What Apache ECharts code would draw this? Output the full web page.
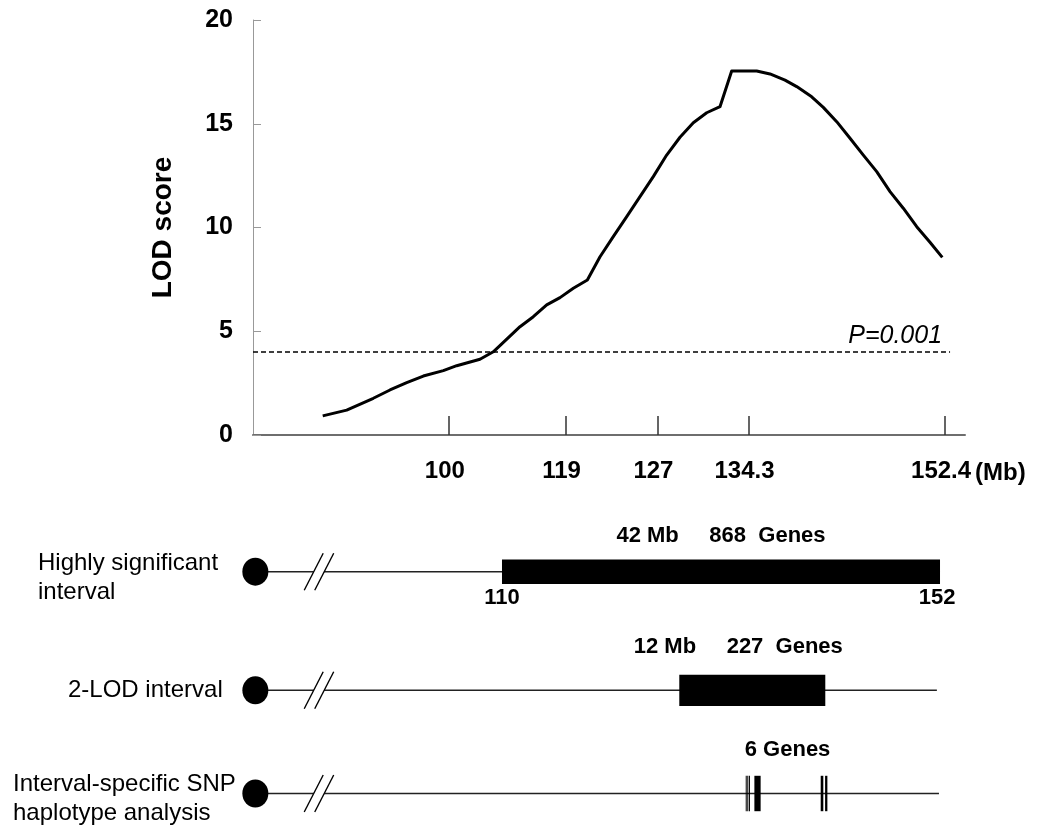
<!DOCTYPE html>
<html><head><meta charset="utf-8">
<script src="https://cdn.jsdelivr.net/npm/echarts@6/dist/echarts.min.js"></script>
<style>html,body{margin:0;padding:0;background:#fff}#c{width:1039px;height:832px}</style>
</head><body><div id="c"></div>
<script>
// ---------- data ----------
// LOD curve: position along the marker map (0-100 axis units) and LOD score
const lodPosition = [9.79,13.16,16.90,19.24,21.59,23.92,26.73,28.61,31.88,33.75,37.50,39.37,41.25,43.12,44.99,46.96,48.74,50.60,52.49,56.22,58.10,59.97,61.84,63.72,65.59,67.23,70.74,72.61,74.72,76.36,78.47,80.10,81.98,83.85,85.72,87.60,89.47,91.33,93.22,95.08,96.81];
const lodScore    = [0.92,1.20,1.77,2.17,2.52,2.84,3.10,3.34,3.65,4.01,5.22,5.70,6.27,6.62,7.07,7.47,8.59,9.56,10.52,12.45,13.49,14.35,15.05,15.53,15.82,17.54,17.54,17.40,17.10,16.79,16.30,15.79,15.10,14.30,13.49,12.69,11.73,10.93,10.04,9.29,8.56];
const markerTickPosition = [27.5, 43.9, 56.8, 69.6, 97.2];
const markerTickLabel = ['100', '119', '127', '134.3', '152.4'];
const thresholdLOD = 4.0;
const thresholdSpan = [0, 97.9];
const thresholdLabel = 'P=0.001';

// lower panel (Mb)
const rowLabels = ['Highly significant\ninterval', '2-LOD interval', 'Interval-specific SNP\nhaplotype analysis'];
const highlySignificantMb = [110, 152];
const twoLodMb = [127, 141];
const snpGeneMb = [[133.37,133.46],[133.52,133.62],[133.68,133.77],[134.2,134.8],[140.56,140.81],[140.98,141.2]];
const rowNotes = ['42 Mb     868  Genes', '12 Mb     227  Genes', '6 Genes'];
const centromereMb = 86.35;
const breakMb = 92.45;
const chromEndMb = [152, 151.7, 151.9];

// ---------- chart ----------
const FONT = '"Liberation Sans", Arial, Helvetica, sans-serif';
const chart = echarts.init(document.getElementById('c'), null, {renderer: 'canvas'});

const rowTops = [526.7, 645.3, 755];
const rowHalf = [0.41, 0.52, 0.69];
const noteDy = [-35.3, -43.3, -43.3];
const noteDx = [0, -14, 1];
const rowSpans = [[highlySignificantMb], [twoLodMb], snpGeneMb];

const grids = [{left: 253, right: 74, top: 20, height: 415}];
const xAxes = [{
  gridIndex: 0, type: 'value', min: 0, max: 100,
  axisLine: {show: true, lineStyle: {color: '#6e6e6e', width: 2}},
  axisTick: {show: true, customValues: markerTickPosition, inside: true, length: 19, lineStyle: {color: '#333', width: 1.5}},
  axisLabel: {show: true, customValues: markerTickPosition, margin: 24, fontSize: 24, fontWeight: 'bold', color: '#000', fontFamily: FONT,
    padding: [0, 8, 0, 0],
    formatter: function (v) {
      let best = 0;
      for (let i = 1; i < markerTickPosition.length; i++) if (Math.abs(markerTickPosition[i] - v) < Math.abs(markerTickPosition[best] - v)) best = i;
      return markerTickLabel[best];
    }},
  splitLine: {show: false},
  name: '(Mb)', nameLocation: 'end', nameGap: 8,
  nameTextStyle: {fontSize: 24, fontWeight: 'bold', color: '#000', fontFamily: FONT, verticalAlign: 'top', padding: [26, 0, 0, 0]}
}];
const yAxes = [{
  gridIndex: 0, type: 'value', min: 0, max: 20, interval: 5,
  axisLine: {show: true, lineStyle: {color: '#999', width: 1}},
  axisTick: {show: true, inside: true, length: 8, lineStyle: {color: '#999'}},
  axisLabel: {margin: 20, fontSize: 25, fontWeight: 'bold', color: '#000', fontFamily: FONT},
  splitLine: {show: false},
  name: 'LOD score', nameLocation: 'middle', nameGap: 76,
  nameTextStyle: {fontSize: 28, fontWeight: 'bold', color: '#000', fontFamily: FONT}
}];
for (let i = 0; i < 3; i++) {
  grids.push({left: 251.7, right: 67.7, top: rowTops[i], height: 90});
  xAxes.push({gridIndex: i + 1, type: 'value', min: 86, max: 155, show: false});
  yAxes.push({gridIndex: i + 1, type: 'value', min: -1.5, max: 1.5, show: false});
}

const series = [
  {
    type: 'line', xAxisIndex: 0, yAxisIndex: 0, z: 4,
    data: lodPosition.map((x, i) => [x, lodScore[i]]),
    showSymbol: false, symbol: 'none', silent: true,
    lineStyle: {color: '#000', width: 3, join: 'round'}
  },
  {
    type: 'line', xAxisIndex: 0, yAxisIndex: 0, z: 3, silent: true,
    symbol: 'circle', symbolSize: 0, showSymbol: true,
    data: [[thresholdSpan[0], thresholdLOD], {value: [thresholdSpan[1], thresholdLOD],
      label: {show: true, formatter: thresholdLabel, position: 'top', align: 'right', offset: [-8, 2],
        fontSize: 25, fontStyle: 'italic', color: '#000', fontFamily: FONT}}],
    lineStyle: {color: '#000', width: 1.5, type: [5, 3]}
  }
];

function breakRender(params, api) {
  const c = api.coord([api.value(0), 0]);
  const dx = 9.5, dy = 18.5, sep = 5.25;
  return {type: 'group', children: [
    {type: 'polygon', shape: {points: [[c[0]-sep-dx, c[1]+dy], [c[0]-sep+dx, c[1]-dy], [c[0]+sep+dx, c[1]-dy], [c[0]+sep-dx, c[1]+dy]]}, style: {fill: '#fff'}},
    {type: 'line', shape: {x1: c[0]-sep-dx, y1: c[1]+dy, x2: c[0]-sep+dx, y2: c[1]-dy}, style: {stroke: '#000', lineWidth: 1.4}},
    {type: 'line', shape: {x1: c[0]+sep-dx, y1: c[1]+dy, x2: c[0]+sep+dx, y2: c[1]-dy}, style: {stroke: '#000', lineWidth: 1.4}}
  ]};
}

for (let i = 0; i < 3; i++) {
  const ax = {xAxisIndex: i + 1, yAxisIndex: i + 1, silent: true};
  // chromosome backbone
  series.push(Object.assign({type: 'line', z: 1, symbol: 'none', data: [[centromereMb, 0], [chromEndMb[i], 0]],
    lineStyle: {color: '#222', width: 1.5}}, ax));
  // axis break
  series.push(Object.assign({type: 'custom', z: 2, data: [[breakMb, 0]], renderItem: breakRender}, ax));
  // centromere
  series.push(Object.assign({type: 'scatter', z: 3, data: [[centromereMb, 0]], symbol: 'circle', symbolSize: [26, 28],
    itemStyle: {color: '#000', opacity: 1}}, ax));
  // intervals / genes
  const half = rowHalf[i];
  series.push(Object.assign({type: 'custom', z: 3, data: rowSpans[i],
    renderItem: function (params, api) {
      const s = api.coord([api.value(0), half]);
      const e = api.coord([api.value(1), -half]);
      return {type: 'rect', shape: {x: s[0], y: s[1], width: Math.max(1, e[0] - s[0]), height: e[1] - s[1]}, style: {fill: '#000'}};
    }}, ax));
  // note text, centred over the spans
  const spans = rowSpans[i];
  const lo = Math.min(...spans.map(d => d[0])), hi = Math.max(...spans.map(d => d[1]));
  const dxN = noteDx[i], dyN = noteDy[i], note = rowNotes[i];
  series.push(Object.assign({type: 'custom', z: 4, data: [[(lo + hi) / 2, 0]],
    renderItem: function (params, api) {
      const c = api.coord([api.value(0), 0]);
      return {type: 'text', x: c[0] + dxN, y: c[1] + dyN,
        style: {text: note, align: 'center', verticalAlign: 'middle', font: 'bold 22px ' + FONT, fill: '#000'}};
    }}, ax));
}
// interval end labels (row 1)
series.push({type: 'custom', xAxisIndex: 1, yAxisIndex: 1, z: 4, silent: true,
  data: highlySignificantMb.map(v => [v, 0]),
  renderItem: function (params, api) {
    const v = api.value(0);
    const c = api.coord([v, 0]);
    return {type: 'text', x: c[0] - (params.dataIndex === 1 ? 3 : 0), y: c[1] + 26,
      style: {text: String(v), align: 'center', verticalAlign: 'middle', font: 'bold 22px ' + FONT, fill: '#000'}};
  }});

const labelLeft = [38, 68, 13];
const labelTop = [548.5, 675.5, 769.5];
const graphic = rowLabels.map((t, i) => ({
  type: 'text', left: labelLeft[i], top: labelTop[i], silent: true,
  style: {text: t, font: '24px ' + FONT, lineHeight: 29, fill: '#000'}
}));

chart.setOption({
  animation: false,
  backgroundColor: '#fff',
  grid: grids, xAxis: xAxes, yAxis: yAxes, series: series, graphic: graphic
});
</script></body></html>
